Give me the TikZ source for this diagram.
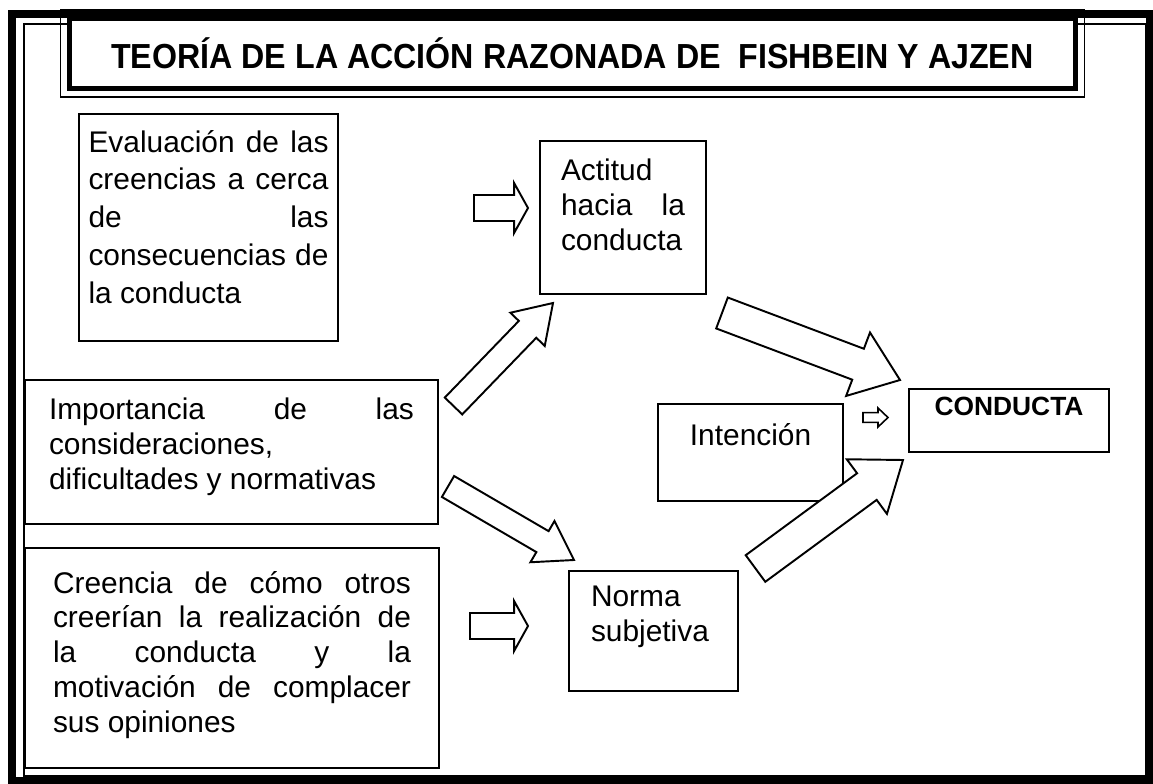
\documentclass[tikz,border=0pt]{standalone}
\usepackage{fontspec}
\setmainfont{Liberation Sans}
\usepackage{graphicx}
\usetikzlibrary{calc}

\newcommand{\bodyfont}{\fontsize{17}{19.84}\selectfont}
\newcommand{\boxtext}[3]{\parbox[t][#2][t]{#1}{\tolerance=10000\hbadness=10000
  \hyphenpenalty=10000\exhyphenpenalty=10000 #3}}

\tikzset{
  arrshaft/.store in=\arrshaft, arrhead/.store in=\arrhead, arrlen/.store in=\arrlen,
  hollow/.style={draw, line width=1.1pt, line join=miter, fill=white,
    to path={let \p1=($(\tikztotarget)-(\tikztostart)$),
      \n1={atan2(\y1,\x1)}, \n2={veclen(\x1,\y1)} in
      ($(\tikztostart)+(\n1+90:\arrshaft)$)
      -- ($(\tikztostart)+(\n1:\n2-\arrlen)+(\n1+90:\arrshaft)$)
      -- ($(\tikztostart)+(\n1:\n2-\arrlen)+(\n1+90:\arrhead)$)
      -- (\tikztotarget)
      -- ($(\tikztostart)+(\n1:\n2-\arrlen)+(\n1-90:\arrhead)$)
      -- ($(\tikztostart)+(\n1:\n2-\arrlen)+(\n1-90:\arrshaft)$)
      -- ($(\tikztostart)+(\n1-90:\arrshaft)$) -- cycle}},
  bigarrow/.style={hollow, arrshaft=9.4pt, arrhead=19.3pt, arrlen=25.5pt},
  midarrow/.style={hollow, arrshaft=6.9pt, arrhead=13.6pt, arrlen=20.7pt},
  smallarrow/.style={hollow, arrshaft=7.4pt, arrhead=14.2pt, arrlen=7.9pt},
  tinyarrow/.style={hollow, line width=0.9pt, arrshaft=2.8pt, arrhead=5.4pt, arrlen=5.7pt},
  box/.style={draw, line width=1.2pt, anchor=north west, inner sep=0pt, font=\bodyfont},
  titlebox/.style={draw, fill=white, line width=2.8pt, minimum width=20.14cm,
    minimum height=1.4cm, inner sep=0pt, font=\fontsize{19.8}{24}\selectfont\bfseries}
}

\begin{document}
\begin{tikzpicture}[x=0.02cm, y=-0.02cm]
  \useasboundingbox (0,0) rectangle (1153,784);
  \draw[line width=4pt] (12,14) rectangle (1150,781);
  \draw[line width=1pt] (24,24) rectangle (1146,776);

  \node[titlebox] (title) at (572.5,53.5)
    {\scalebox{0.925}[1]{TEORÍA DE LA ACCIÓN RAZONADA DE\ \ FISHBEIN Y AJZEN}};
  \draw[line width=0.9pt] ([shift={(-6,-6)}]title.north west)
    rectangle ([shift={(6,6)}]title.south east);

  \node[box, inner xsep=0.19cm, inner ysep=0.32cm] (eva) at (78,113)
    {\boxtext{4.8cm}{3.9cm}{\fontsize{17}{21.5}\selectfont
      Evaluación de las\linebreak creencias a cerca\linebreak
      de las\linebreak consecuencias de\linebreak la conducta}};
  \node[box, inner xsep=0.42cm, inner ysep=0.36cm] (act) at (539,140)
    {\boxtext{2.48cm}{2.34cm}{Actitud\linebreak hacia la\linebreak conducta}};
  \node[box, inner xsep=0.48cm, inner ysep=0.36cm] (imp) at (24,379)
    {\boxtext{7.3cm}{2.16cm}{Importancia de las\linebreak consideraciones,\linebreak
      dificultades y normativas}};
  \node[box, inner xsep=0.56cm, inner ysep=0.46cm] (cre) at (24,547)
    {\boxtext{7.16cm}{3.48cm}{Creencia de cómo otros\linebreak creerían la realización de\linebreak
      la conducta y la\linebreak motivación de complacer\linebreak sus opiniones}};
  \node[box, inner xsep=0.2cm, inner ysep=0.38cm] (int) at (657,403)
    {\boxtext{3.3cm}{1.18cm}{\centering Intención}};
  \node[box, inner xsep=0.44cm, inner ysep=0.3cm] (nor) at (568,570)
    {\boxtext{2.5cm}{1.8cm}{Norma\linebreak subjetiva}};
  \node[box, inner xsep=0.2cm, inner ysep=0.16cm] (con) at (908,388)
    {\boxtext{3.6cm}{0.94cm}{\centering\fontsize{15}{18}\selectfont\bfseries CONDUCTA}};

  \coordinate (eva-t) at (474,208);
  \coordinate (eva-h) at (528,208);
  \coordinate (cre-t) at (470,626);
  \coordinate (cre-h) at (528,626);
  \coordinate (imp-at) at (453.5,406);
  \coordinate (imp-ah) at (553,303);
  \coordinate (imp-nt) at (448,486.5);
  \coordinate (imp-nh) at (574,560);
  \coordinate (act-t) at (722,313);
  \coordinate (act-h) at (900,380);
  \coordinate (nor-t) at (755.5,568.5);
  \coordinate (nor-h) at (903,460);
  \coordinate (int-t) at (863,417.5);
  \coordinate (int-h) at (888,417.5);

  \draw[smallarrow] (eva-t) to (eva-h);
  \draw[smallarrow] (cre-t) to (cre-h);
  \draw[midarrow] (imp-at) to (imp-ah);
  \draw[midarrow] (imp-nt) to (imp-nh);
  \draw[bigarrow] (act-t) to (act-h);
  \draw[bigarrow] (nor-t) to (nor-h);
  \draw[tinyarrow] (int-t) to (int-h);
\end{tikzpicture}
\end{document}
